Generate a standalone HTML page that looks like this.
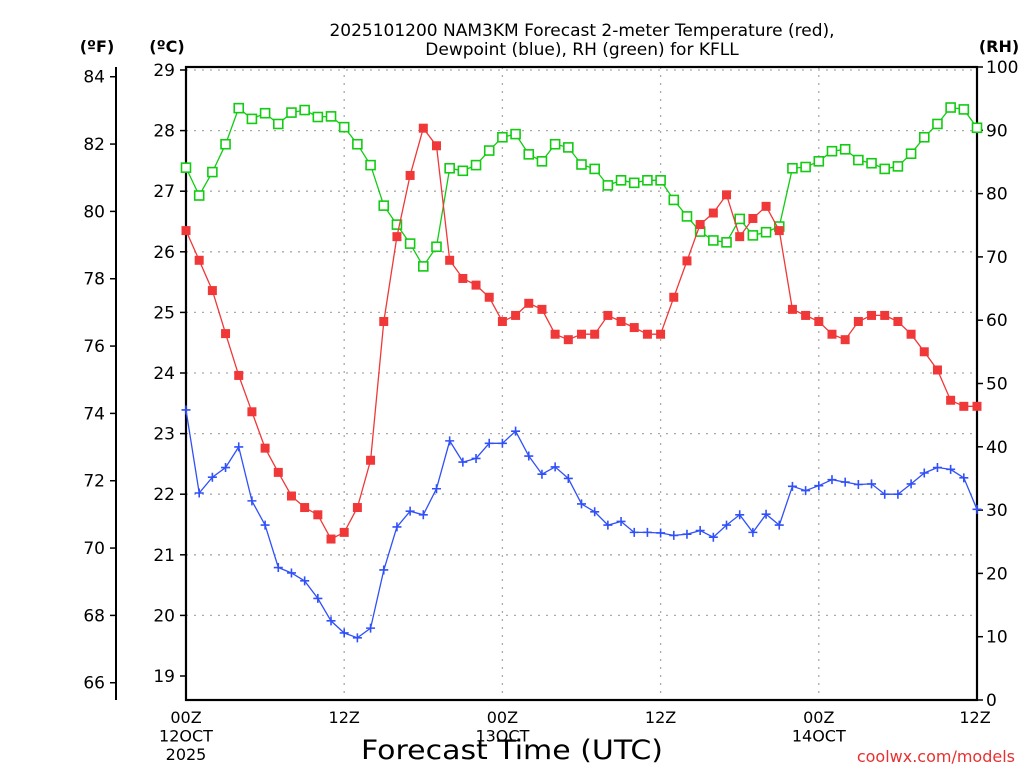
<!DOCTYPE html>
<html><head><meta charset="utf-8"><style>
body{margin:0;background:#fff;width:1024px;height:768px;overflow:hidden}
svg{display:block}
text{font-family:"DejaVu Sans","Liberation Sans",sans-serif;fill:#000}
</style></head><body>
<svg id="chart" width="1024" height="768" viewBox="0 0 1024 768" xmlns="http://www.w3.org/2000/svg">
<text x="582" y="36" font-size="17" text-anchor="middle">2025101200 NAM3KM Forecast 2-meter Temperature (red),</text>
<text x="582" y="55" font-size="17" text-anchor="middle">Dewpoint (blue), RH (green) for KFLL</text>
<text x="97" y="52" font-size="16" font-weight="bold" text-anchor="middle">(ºF)</text>
<text x="167" y="52" font-size="16" font-weight="bold" text-anchor="middle">(ºC)</text>
<text x="999" y="52" font-size="16" font-weight="bold" text-anchor="middle">(RH)</text>
<text x="512" y="759" font-size="27" text-anchor="middle" textLength="302" lengthAdjust="spacingAndGlyphs">Forecast Time (UTC)</text>
<text x="1015" y="762" font-size="16" text-anchor="end" style="fill:#e83030">coolwx.com/models</text>
<g id="grid"></g><g id="axes"></g><g id="series"></g>
</svg>
<script>
const hours = [];
for (let h = 0; h <= 60; h++) hours.push(h);
const tempC = [26.35,25.86,25.36,24.65,23.96,23.36,22.76,22.36,21.97,21.78,21.66,21.26,21.37,21.78,22.56,24.85,26.25,27.26,28.04,27.75,25.86,25.56,25.45,25.25,24.85,24.95,25.15,25.05,24.64,24.55,24.64,24.64,24.95,24.85,24.75,24.64,24.64,25.25,25.85,26.45,26.64,26.94,26.25,26.55,26.75,26.35,25.05,24.95,24.85,24.64,24.55,24.85,24.95,24.95,24.85,24.64,24.35,24.05,23.55,23.45,23.45];
const dewC = [23.39,22.02,22.28,22.44,22.78,21.89,21.49,20.79,20.70,20.57,20.28,19.91,19.71,19.63,19.79,20.75,21.46,21.72,21.66,22.09,22.88,22.53,22.59,22.84,22.84,23.04,22.63,22.33,22.45,22.26,21.84,21.71,21.49,21.55,21.37,21.37,21.36,21.32,21.34,21.40,21.29,21.49,21.66,21.37,21.67,21.49,22.13,22.06,22.14,22.24,22.20,22.16,22.17,22.00,22.00,22.17,22.35,22.44,22.41,22.27,21.75];
const rh = [84.1,79.7,83.4,87.8,93.5,91.8,92.7,91.0,92.8,93.2,92.1,92.2,90.5,87.8,84.5,78.1,75.1,72.1,68.5,71.6,84.0,83.6,84.5,86.8,88.9,89.4,86.2,85.1,87.8,87.3,84.6,83.9,81.3,82.1,81.7,82.1,82.1,79.0,76.4,74.0,72.6,72.3,76.0,73.4,73.9,74.8,84.0,84.2,85.1,86.7,87.0,85.3,84.8,83.9,84.3,86.3,88.9,91.0,93.6,93.3,90.4];
const cTicks = [19,20,21,22,23,24,25,26,27,28,29];
const fTicks = [66,68,70,72,74,76,78,80,82,84];
const rhTicks = [0,10,20,30,40,50,60,70,80,90,100];
const xTickHours = [0,12,24,36,48,60];
const xTickLabels = [["00Z","12OCT","2025"],["12Z"],["00Z","13OCT"],["12Z"],["00Z","14OCT"],["12Z"]];

const L=186,R=977,T=67,B=700;
const xs = h => L + h*(R-L)/60;
const yC = c => 70 + (29-c)*60.6;
const yF = f => yC((f-32)*5/9);
const yRH = r => B - r*(B-T)/100;
const NS="http://www.w3.org/2000/svg";
function mk(tag, attrs, parent){const e=document.createElementNS(NS,tag);for(const k in attrs)e.setAttribute(k,attrs[k]);parent.appendChild(e);return e;}
const grid=document.getElementById('grid'),axes=document.getElementById('axes'),ser=document.getElementById('series');

cTicks.forEach(c=>{
  if(c>=20){const g=mk('line',{x1:L,x2:R,y1:yC(c),y2:yC(c),stroke:'#aaa','stroke-width':1.3,'stroke-dasharray':'2 6'},grid);
  
  }
  const t=mk('line',{x1:L-6,x2:L,y1:yC(c),y2:yC(c),stroke:'#000','stroke-width':1.5},axes);
  
  
  const tx=mk('text',{x:L-11,y:yC(c)+6,'font-size':17,'text-anchor':'end'},axes);tx.textContent=c;
  
  
});
xTickHours.forEach((h,i)=>{
  if(h>0&&h<60){const g=mk('line',{x1:xs(h),x2:xs(h),y1:T,y2:B,stroke:'#aaa','stroke-width':1.3,'stroke-dasharray':'2 6'},grid);
  
  }
  xTickLabels[i].forEach((s,j)=>{
    const tx=mk('text',{x:xs(h)-(h==60?2:0),y:723+j*18.5,'font-size':16,'text-anchor':'middle'},axes);tx.textContent=s;
    
    
  });
});
fTicks.forEach(f=>{
  const t=mk('line',{x1:110,x2:116,y1:yF(f),y2:yF(f),stroke:'#000','stroke-width':1.5},axes);
  
  
  const tx=mk('text',{x:105,y:yF(f)+6,'font-size':17,'text-anchor':'end'},axes);tx.textContent=f;
  
  
});
rhTicks.forEach(r=>{
  const t=mk('line',{x1:R,x2:R+6,y1:yRH(r),y2:yRH(r),stroke:'#000','stroke-width':1.5},axes);
  
  
  const tx=mk('text',{x:R+9,y:yRH(r)+6,'font-size':17,'text-anchor':'start'},axes);tx.textContent=r;
  
  
});
const fax=mk('line',{x1:116,x2:116,y1:T,y2:B,stroke:'#000','stroke-width':2},axes);


const frame=mk('rect',{x:L,y:T,width:R-L,height:B-T,fill:'none',stroke:'#000','stroke-width':2.2},axes);



function series(vals, yf, color, kind, name){
  const pts=vals.map((v,i)=>xs(hours[i]).toFixed(1)+','+yf(v).toFixed(1)).join(' ');
  const pl=mk('polyline',{points:pts,fill:'none',stroke:color,'stroke-width':1.3},ser);
  
  
  vals.forEach((v,i)=>{
    const x=xs(hours[i]),y=yf(v);let m;
    if(kind==='fill') m=mk('rect',{x:x-4.5,y:y-4.5,width:9,height:9,fill:color},ser);
    else if(kind==='open') m=mk('rect',{x:x-4.5,y:y-4.5,width:9,height:9,fill:'#fff',stroke:color,'stroke-width':1.6},ser);
    else m=mk('path',{d:`M${x-4.5} ${y}H${x+4.5}M${x} ${y-4.5}V${y+4.5}`,stroke:color,'stroke-width':1.6},ser);
    
    
  });
}
series(rh,yRH,'#11cc11','open','rh');
series(tempC,yC,'#f03838','fill','temperature');
series(dewC,yC,'#3050f8','plus','dewpoint');
</script>
</body></html>
